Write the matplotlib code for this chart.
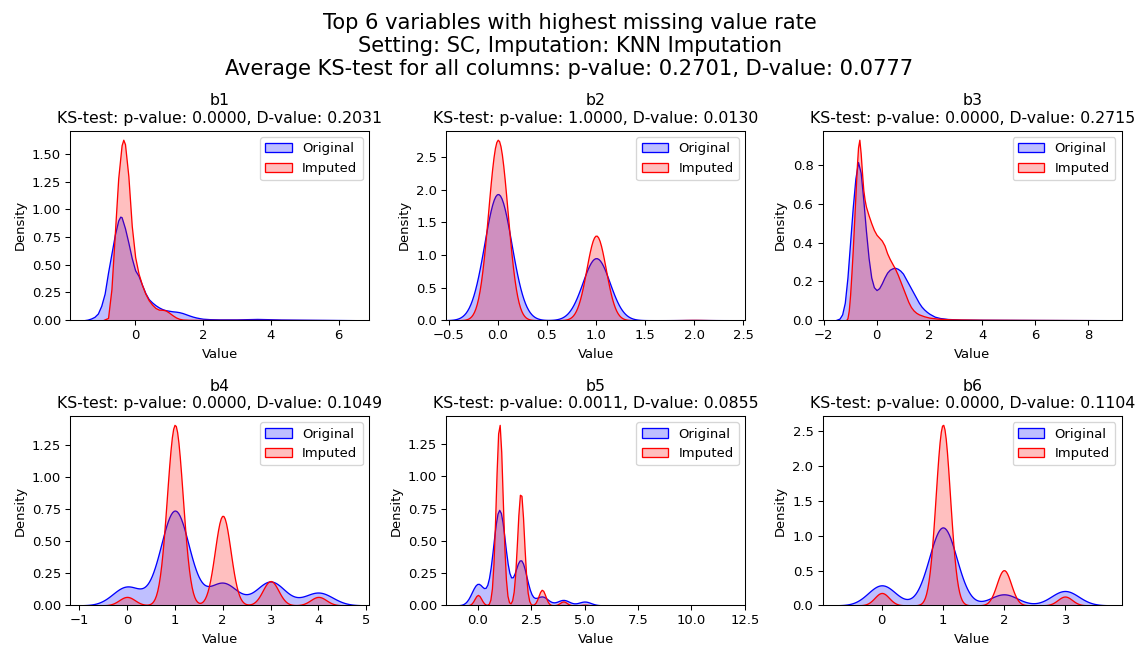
import matplotlib
matplotlib.use("Agg")
import matplotlib.pyplot as plt
import numpy as np
import seaborn as sns
from matplotlib.colors import to_rgba

# ---- data --------------------------------------------------------------
columns = ["b1", "b2", "b3", "b4", "b5", "b6"]
ks_p = [0.0000, 1.0000, 0.0000, 0.0000, 0.0011, 0.0000]
ks_d = [0.2031, 0.0130, 0.2715, 0.1049, 0.0855, 0.1104]
avg_p, avg_d = 0.2701, 0.0777

# continuous columns: density curve samples (value, density)
b1_orig_x = [-1.5, -1.4, -1.3, -1.2, -1.1, -1.0, -0.9, -0.8, -0.7, -0.6, -0.5,
             -0.44, -0.4, -0.3, -0.2, -0.1, 0.0, 0.1, 0.2, 0.3, 0.4, 0.5, 0.6,
             0.7, 0.8, 0.9, 1.0, 1.1, 1.2, 1.3, 1.4, 1.5, 1.6, 1.7, 1.8, 1.9,
             2.0, 2.2, 2.5, 3.0, 3.3, 3.6, 3.9, 4.3, 5.0, 5.8, 6.5]
b1_orig_y = [0.0, 0.005, 0.015, 0.03, 0.06, 0.13, 0.24, 0.43, 0.60, 0.77, 0.90,
             0.935, 0.93, 0.83, 0.70, 0.56, 0.45, 0.40, 0.32, 0.245, 0.19, 0.16,
             0.135, 0.115, 0.10, 0.09, 0.085, 0.08, 0.077, 0.072, 0.064, 0.053,
             0.042, 0.032, 0.024, 0.018, 0.013, 0.009, 0.007, 0.007, 0.009,
             0.011, 0.009, 0.006, 0.004, 0.002, 0.0]
b1_imp_x = [-0.95, -0.8, -0.7, -0.6, -0.5, -0.4, -0.35, -0.3, -0.2, -0.1, 0.0,
            0.1, 0.2, 0.3, 0.4, 0.5, 0.6, 0.7, 0.8, 0.9, 1.0, 1.1, 1.2, 1.3,
            1.4, 1.6, 2.0, 3.0, 4.5, 6.0]
b1_imp_y = [0.0, 0.02, 0.28, 0.78, 1.28, 1.58, 1.63, 1.59, 1.30, 0.85, 0.57,
            0.42, 0.32, 0.24, 0.18, 0.14, 0.11, 0.095, 0.094, 0.088, 0.068,
            0.045, 0.025, 0.012, 0.006, 0.003, 0.002, 0.002, 0.001, 0.0]

b3_orig_x = [-1.55, -1.4, -1.3, -1.2, -1.1, -1.0, -0.9, -0.8, -0.7, -0.6, -0.5,
             -0.4, -0.3, -0.2, -0.1, 0.0, 0.1, 0.2, 0.3, 0.4, 0.5, 0.6, 0.7,
             0.8, 0.9, 1.0, 1.1, 1.2, 1.3, 1.4, 1.5, 1.6, 1.7, 1.8, 1.9, 2.0,
             2.2, 2.4, 2.7, 3.2, 4.0, 6.0, 8.75]
b3_orig_y = [0.0, 0.008, 0.03, 0.09, 0.22, 0.40, 0.58, 0.73, 0.815, 0.76, 0.62,
             0.46, 0.32, 0.22, 0.17, 0.155, 0.165, 0.19, 0.22, 0.245, 0.26,
             0.267, 0.27, 0.265, 0.255, 0.24, 0.215, 0.19, 0.165, 0.14, 0.115,
             0.09, 0.07, 0.055, 0.043, 0.033, 0.018, 0.011, 0.006, 0.003,
             0.002, 0.001, 0.0]
b3_imp_x = [-1.15, -1.1, -1.05, -1.0, -0.95, -0.9, -0.85, -0.8, -0.75, -0.7,
            -0.65, -0.6, -0.55, -0.5, -0.45, -0.4, -0.3, -0.2, -0.1, 0.0, 0.1,
            0.2, 0.3, 0.4, 0.5, 0.6, 0.7, 0.8, 0.9, 1.0, 1.1, 1.2, 1.3, 1.4,
            1.5, 1.6, 1.8, 2.0, 2.3, 2.8, 4.0, 6.0, 8.4]
b3_imp_y = [0.0, 0.01, 0.05, 0.13, 0.24, 0.36, 0.50, 0.64, 0.78, 0.89, 0.93,
            0.86, 0.76, 0.67, 0.62, 0.585, 0.54, 0.50, 0.465, 0.44, 0.425, 0.41,
            0.385, 0.345, 0.315, 0.29, 0.265, 0.235, 0.20, 0.165, 0.13, 0.095,
            0.068, 0.05, 0.038, 0.03, 0.02, 0.013, 0.008, 0.004, 0.002, 0.001,
            0.0]

# discrete columns: category values with their share of rows
b2_values = [0, 1, 2]
b2_orig_share = [0.669, 0.329, 0.001]
b2_imp_share = [0.680, 0.319, 0.001]

b4_values = [0, 1, 2, 3, 4]
b4_orig_share = [0.108, 0.551, 0.130, 0.138, 0.074]
b4_imp_share = [0.027, 0.580, 0.288, 0.078, 0.027]

b5_values = [0, 1, 2, 3, 4, 5, 11]
b5_orig_share = [0.119, 0.531, 0.251, 0.049, 0.030, 0.021, 0.0005]
b5_imp_share = [0.032, 0.560, 0.348, 0.048, 0.012, 0.002, 0.0005]

b6_values = [0, 1, 2, 3]
b6_orig_share = [0.162, 0.631, 0.089, 0.116]
b6_imp_share = [0.052, 0.760, 0.148, 0.037]

# kernel bandwidths (original, imputed) for the discrete columns
bandwidths = {"b2": (0.138, 0.098), "b4": (0.297, 0.164),
              "b5": (0.286, 0.158), "b6": (0.225, 0.117)}

x_ranges = {"b1": (-1.92, 6.9), "b2": (-0.525, 2.52), "b3": (-2.04, 9.27),
            "b4": (-1.19, 5.06), "b5": (-1.48, 12.53), "b6": (-0.97, 3.93)}

ORIG_C, IMP_C = "blue", "red"
DPI = 94.25


def curve(ax, x, y, color, label):
    ax.fill_between(x, y, facecolor=to_rgba(color, 0.25),
                    edgecolor=to_rgba(color, 1), linewidth=1.0, label=label)


def kde(ax, values, shares, bw, color, label):
    values = np.asarray(values, dtype=float)
    shares = np.asarray(shares, dtype=float)
    factor = bw / np.sqrt(np.cov(values, aweights=shares))
    sns.kdeplot(x=values, weights=shares, bw_method=factor, fill=True,
                color=color, label=label, ax=ax)


fig, axes = plt.subplots(2, 3, figsize=(1139 / DPI, 646 / DPI), dpi=DPI)
fig.subplots_adjust(left=0.0615, right=0.9848, top=0.7977, bottom=0.063,
                    wspace=0.258, hspace=0.505)
axes = axes.flatten()

continuous = {"b1": (b1_orig_x, b1_orig_y, b1_imp_x, b1_imp_y),
              "b3": (b3_orig_x, b3_orig_y, b3_imp_x, b3_imp_y)}
discrete = {"b2": (b2_values, b2_orig_share, b2_imp_share),
            "b4": (b4_values, b4_orig_share, b4_imp_share),
            "b5": (b5_values, b5_orig_share, b5_imp_share),
            "b6": (b6_values, b6_orig_share, b6_imp_share)}

for ax, col, p, d in zip(axes, columns, ks_p, ks_d):
    if col in continuous:
        ox, oy, ix, iy = continuous[col]
        curve(ax, ox, oy, ORIG_C, "Original")
        curve(ax, ix, iy, IMP_C, "Imputed")
        ax.set_ylim(bottom=0)
    else:
        vals, o_share, i_share = discrete[col]
        bw_o, bw_i = bandwidths[col]
        kde(ax, vals, o_share, bw_o, ORIG_C, "Original")
        kde(ax, vals, i_share, bw_i, IMP_C, "Imputed")
    ax.set_xlim(*x_ranges[col])
    ax.set_title(f"{col}\nKS-test: p-value: {p:.4f}, D-value: {d:.4f}")
    ax.set_xlabel("Value")
    ax.set_ylabel("Density")
    ax.legend(loc="upper right")

fig.suptitle("Top 6 variables with highest missing value rate\n"
             "Setting: SC, Imputation: KNN Imputation\n"
             f"Average KS-test for all columns: p-value: {avg_p:.4f}, "
             f"D-value: {avg_d:.4f}", fontsize=16)

fig.savefig("out.png", dpi=DPI)
